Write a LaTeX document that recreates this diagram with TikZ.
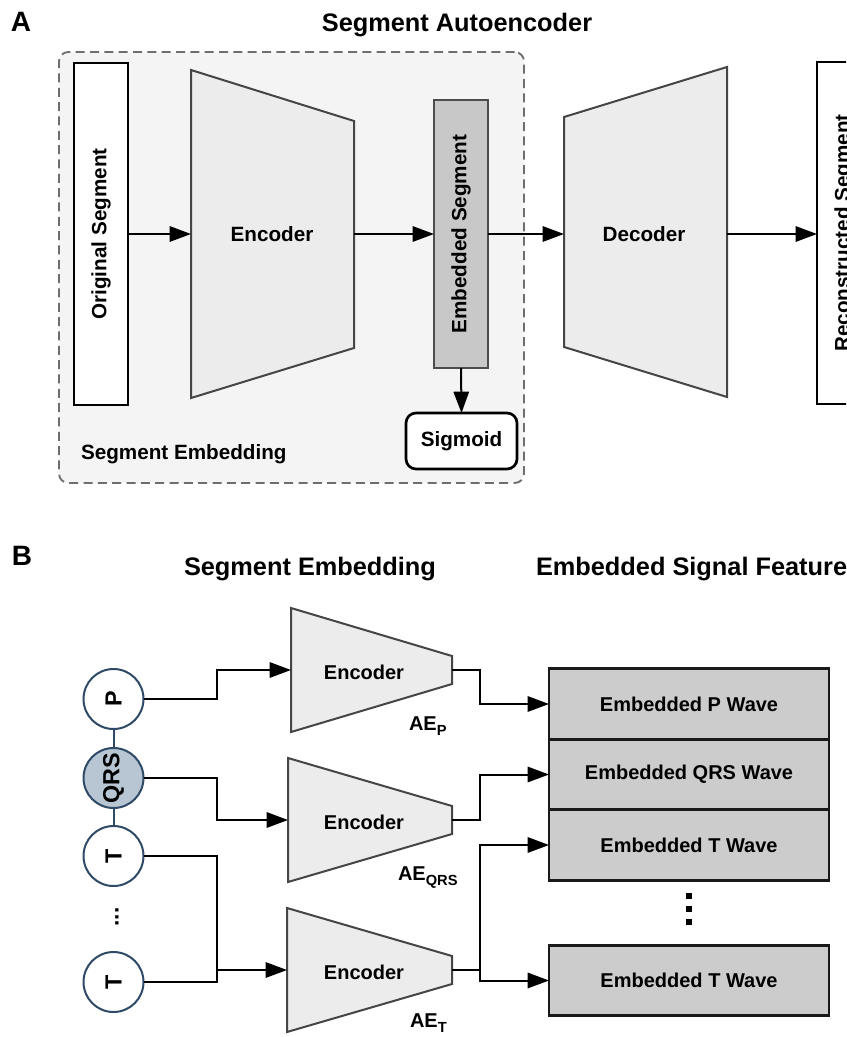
\documentclass[tikz,border=0pt]{standalone}
\usepackage{fontspec}
\setmainfont{Liberation Sans}
\usetikzlibrary{arrows.meta}
\definecolor{dashgray}{HTML}{6E6E6E}
\definecolor{panelfill}{HTML}{F4F4F4}
\definecolor{trapfill}{HTML}{ECECEC}
\definecolor{trapdraw}{HTML}{454545}
\definecolor{embfill}{HTML}{C8C8C8}
\definecolor{boxfill}{HTML}{CCCCCC}
\definecolor{qrsfill}{HTML}{B8C6D3}
\definecolor{navy}{HTML}{2E4A66}
\begin{document}
\begin{tikzpicture}[x=0.75pt,y=-0.75pt,
  every node/.style={inner sep=0pt,outer sep=0pt},
  titlefont/.style={font=\bfseries\fontsize{19}{22}\selectfont},
  letterfont/.style={font=\bfseries\fontsize{21}{24}\selectfont},
  txtA/.style={font=\bfseries\fontsize{15.5}{18}\selectfont},
  txtB/.style={font=\bfseries\fontsize{15}{18}\selectfont},
  arr/.style={line width=1.5pt,-{Triangle[length=16pt,width=11.5pt]}},
  wire/.style={line width=1.5pt},
  trap/.style={fill=trapfill,draw=trapdraw,line width=1.5pt,line join=miter},
  panel/.style={draw=dashgray,fill=panelfill,line width=1.4pt,dash pattern=on 6.75pt off 4pt,rounded corners=7pt,minimum width=348.75pt,minimum height=323.25pt},
  whitebox/.style={draw=black,fill=white,line width=2pt,txtA},
  embbox/.style={draw=black!70,fill=embfill,line width=1.6pt,txtA,minimum width=40.5pt,minimum height=201pt},
  sigbox/.style={draw=black,fill=white,line width=2pt,rounded corners=7.5pt,txtA,minimum width=83.25pt,minimum height=42pt},
  circ/.style={circle,draw=navy,line width=1.5pt,fill=white,minimum size=45pt,font=\bfseries\fontsize{17.5}{20}\selectfont},
  wavebox/.style={draw=black!90,fill=boxfill,line width=2pt,minimum width=210pt,minimum height=52.875pt,txtB},
  dotsq/.style={fill=black,minimum size=4.5pt},
  aelbl/.style={anchor=base west,font=\bfseries\fontsize{15}{17}\selectfont}
]
\path[use as bounding box] (0,0) rectangle (846,1037);
\clip (0,0) rectangle (846,1037);

% ---------------- Part A ----------------
\node[letterfont,anchor=base west] (lblA) at (11,32) {A};
\node[titlefont,anchor=base] (titA) at (457,32) {Segment Autoencoder};

\node[panel] (panelA) at (291.5,267.5) {};
\node[txtA,anchor=base west] (embLbl) at (81,459) {Segment Embedding};

\node[whitebox,minimum width=40.5pt,minimum height=256.5pt] (orig) at (101,234) {\rotatebox{90}{Original Segment}};

\path[trap] (191,70) -- (354,121) -- (354,348) -- (191,398) -- cycle;
\node[txtA] (encA) at (272,234) {Encoder};
\coordinate (encAL) at (191,234);
\coordinate (encAR) at (354,234);

\node[embbox] (emb) at (461,234) {\rotatebox{90}{Embedded Segment}};
\node[sigbox] (sig) at (461.5,441) {Sigmoid};

\path[trap] (564,117) -- (727,67) -- (727,397) -- (564,347) -- cycle;
\node[txtA] (decA) at (644,234) {Decoder};
\coordinate (decAL) at (564,234);
\coordinate (decAR) at (727,234);

\node[whitebox,minimum width=40.5pt,minimum height=256.5pt] (rec) at (844,233) {\rotatebox{90}{Reconstructed Segment}};

\draw[arr] (orig.east) -- (encAL);
\draw[arr] (encAR) -- (emb.west);
\draw[arr] (emb.east) -- (decAL);
\draw[arr] (decAR) -- (decAR -| rec.west);
\draw[arr] (emb.south) -- (sig.north);

% ---------------- Part B ----------------
\node[letterfont,anchor=base west] (lblB) at (12,565) {B};
\node[titlefont,anchor=base west] (titB1) at (184,575) {Segment Embedding};
\node[titlefont,anchor=base west] (titB2) at (536,575) {Embedded Signal Feature};

\node[circ] (P) at (113.5,699) {\rotatebox{90}{P}};
\node[circ,fill=qrsfill] (Q) at (113.5,778) {\rotatebox{90}{QRS}};
\node[circ] (T1) at (113.5,856) {\rotatebox{90}{T}};
\node[font=\bfseries\fontsize{17}{20}\selectfont] (vd) at (117,917) {\rotatebox{90}{...}};
\node[circ] (T2) at (113.5,982) {\rotatebox{90}{T}};
\draw[navy,line width=1.5pt] (P.south) -- (Q.north);
\draw[navy,line width=1.5pt] (Q.south) -- (T1.north);

\path[trap] (291,608) -- (452,656) -- (452,684) -- (291,732) -- cycle;
\path[trap] (288,758) -- (452,806) -- (452,834) -- (288,882) -- cycle;
\path[trap] (287,908) -- (452,956) -- (452,984) -- (287,1032) -- cycle;
\node[txtB] (enc1) at (364,672) {Encoder};
\node[txtB] (enc2) at (364,822) {Encoder};
\node[txtB] (enc3) at (364,972) {Encoder};
\coordinate (e1in) at (291,670);
\coordinate (e2in) at (288,820);
\coordinate (e3in) at (287,970);
\coordinate (e1out) at (452,670);
\coordinate (e2out) at (452,820);
\coordinate (e3out) at (452,970);

\node[aelbl] (aep) at (409,730) {AE\raisebox{-3.8pt}{\fontsize{11}{12}\selectfont P}};
\node[aelbl] (aeq) at (398,880) {AE\raisebox{-3.8pt}{\fontsize{11}{12}\selectfont QRS}};
\node[aelbl] (aet) at (410,1027) {AE\raisebox{-3.8pt}{\fontsize{11}{12}\selectfont T}};

\node[wavebox] (b1) at (689,704) {Embedded P Wave};
\node[wavebox] (b2) at (689,774.5) {Embedded QRS Wave};
\node[wavebox] (b3) at (689,845) {Embedded T Wave};
\node[wavebox] (b4) at (689,980.5) {Embedded T Wave};
\node[dotsq] (d1) at (689,896) {};
\node[dotsq] (d2) at (689,909) {};
\node[dotsq] (d3) at (689,922) {};

\coordinate (jx) at (217,0);
\coordinate (ox) at (480,0);
\coordinate (j3) at (217,970);
\coordinate (k3) at (480,970);

\draw[arr] (P.east) -- (P.east -| jx) |- (e1in);
\draw[arr] (Q.east) -- (Q.east -| jx) |- (e2in);
\draw[wire] (T1.east) -| (j3);
\draw[wire] (T2.east) -| (j3);
\draw[arr] (j3) -- (e3in);

\draw[arr] (e1out) -- (e1out -| ox) |- (b1.west);
\draw[arr] (e2out) -- (e2out -| ox) |- (b2.west);
\draw[wire] (e3out) -- (k3);
\draw[arr] (k3) |- (b3.west);
\draw[arr] (k3) |- (b4.west);
\end{tikzpicture}
\end{document}
